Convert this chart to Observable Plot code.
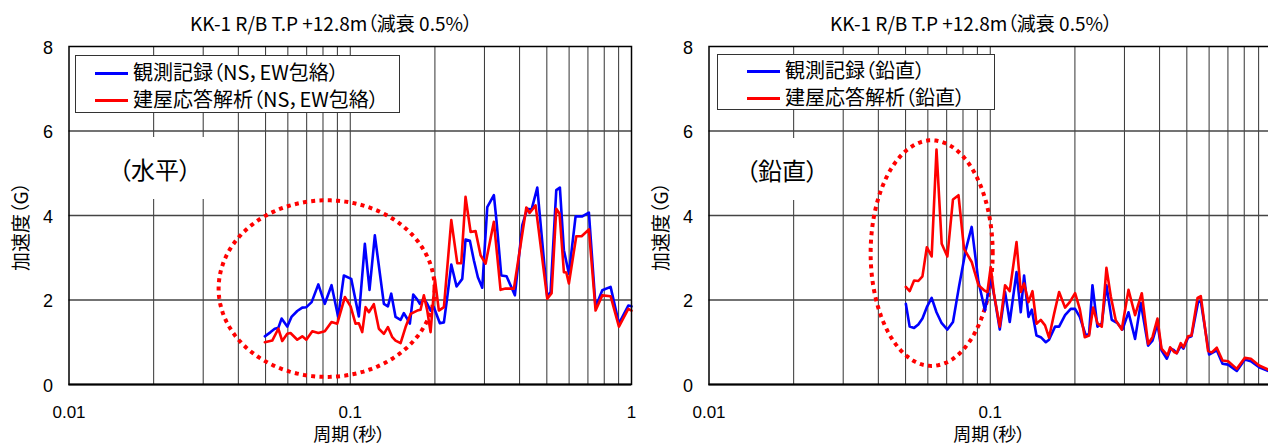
<!DOCTYPE html>
<html>
<head>
<meta charset="utf-8">
<script src="https://cdn.jsdelivr.net/npm/d3@7"></script>
<script src="https://cdn.jsdelivr.net/npm/@observablehq/plot@0.6"></script>
<style>
  html, body { margin: 0; padding: 0; overflow: hidden; background: #fff; }
  body { width: 1268px; height: 445px; font-family: "Noto Sans CJK JP", sans-serif; font-feature-settings: "palt"; }
  #wrap { display: flex; width: 1280px; }
  .panel { position: relative; width: 640px; height: 445px; flex: none; }
  .panel svg { display: block; font-feature-settings: "palt"; }
  .legend { position: absolute; background: #fff; border: 1.2px solid #333; box-sizing: border-box; }
  .legend .sw { position: absolute; height: 3px; margin-top: -1.5px; }
  .legend .tx { position: absolute; font-size: 20px; line-height: 20px; margin-top: -11px; white-space: nowrap; color: #000; }
  .tag { position: absolute; background: #fff; display: flex; align-items: center; justify-content: center; }
  .tag span { font-size: 24px; color: #000; white-space: nowrap; }
</style>
</head>
<body>
<div id="wrap"></div>
<script>
// ---- text ----
const titleText = "KK-1 R/B T.P +12.8m（減衰 0.5%）";
const xLabel = "周期（秒）";
const yLabel = "加速度（G）";
const xTicks = [0.01, 0.1, 1];
const xTickLabels = ["0.01", "0.1", "1"];
const yTicks = [0, 2, 4, 6, 8];
const gridX = [0.02, 0.03, 0.04, 0.05, 0.06, 0.07, 0.08, 0.09, 0.1, 0.2, 0.3, 0.4, 0.5, 0.6, 0.7, 0.8, 0.9];
const gridY = [2, 4, 6];

// ---- horizontal panel (NS, EW envelope) ----
const hLegend = ["観測記録（NS，EW包絡）", "建屋応答解析（NS，EW包絡）"];
const hTag = "（水平）";
const hObsT = [0.0497,0.0521,0.0539,0.0555,0.057,0.0597,0.0618,0.0648,0.0675,0.0698,
  0.0729,0.077,0.0812,0.0858,0.0906,0.0949,0.1008,0.1073,0.1127,0.1171,
  0.1223,0.1317,0.1361,0.1399,0.1449,0.151,0.1551,0.1586,0.1629,0.1675,
  0.1731,0.1768,0.1827,0.1878,0.193,0.1983,0.2083,0.2153,0.2213,0.2287,
  0.2388,0.2502,0.257,0.2663,0.2751,0.2843,0.2947,0.307,0.3241,0.3314,
  0.3443,0.3596,0.3849,0.409,0.4261,0.4413,0.4624,0.5019,0.5156,0.5402,
  0.5564,0.5749,0.599,0.6327,0.6683,0.7055,0.7452,0.7872,0.8427,0.9022,
  0.9741,1.0];
const hObsA = [1.14,1.24,1.32,1.34,1.56,1.37,1.60,1.74,1.82,1.83,
  1.95,2.37,1.91,2.35,1.60,2.58,2.50,1.61,3.33,2.24,
  3.53,1.91,1.85,2.15,1.60,1.53,1.69,1.58,1.44,2.13,
  2.01,1.91,2.03,1.91,1.75,1.83,1.45,1.47,2.07,2.84,
  2.32,2.50,3.43,3.40,2.94,2.54,2.29,4.20,4.48,3.85,
  2.58,2.56,2.11,3.77,4.16,4.14,4.66,2.07,2.19,4.60,
  4.66,3.18,2.62,3.98,3.98,4.07,1.83,2.23,2.31,1.44,
  1.87,1.85];
const hAnaT = [0.0497,0.0528,0.0555,0.0573,0.0597,0.0613,0.0648,0.0675,0.0698,0.0733,
  0.077,0.0812,0.0858,0.0899,0.0957,0.1003,0.1044,0.1073,0.1103,0.1134,
  0.1165,0.1213,0.1264,0.1317,0.1361,0.1411,0.1449,0.151,0.1573,0.1639,
  0.1731,0.1778,0.1827,0.1878,0.193,0.2,0.2066,0.2153,0.2287,0.2402,
  0.2481,0.257,0.2679,0.279,0.2907,0.3028,0.3241,0.3423,0.3567,0.3818,
  0.4227,0.4342,0.456,0.5019,0.5199,0.5402,0.555,0.5749,0.5864,0.599,
  0.6363,0.6646,0.7055,0.7452,0.7872,0.8427,0.9022,0.9741,1.0];
const hAnaA = [1.00,1.04,1.32,1.03,1.20,1.22,1.06,1.14,1.06,1.26,
  1.22,1.26,1.48,1.44,2.07,1.85,1.44,1.45,1.24,1.83,
  1.71,1.90,1.32,1.20,1.36,1.12,1.04,0.98,1.36,1.67,
  1.75,1.77,2.11,1.75,1.24,2.50,1.75,1.83,3.89,2.87,
  2.87,4.44,3.61,3.63,3.06,2.86,3.85,2.24,2.27,2.27,
  4.19,4.06,4.24,2.03,2.16,4.16,4.04,2.66,2.65,2.39,
  3.51,3.51,3.67,1.75,2.11,2.09,1.37,1.79,1.75];
// highlight ellipse: centre period, centre G, half-width (decades), half-height (G)
const hEllipse = [0.0824, 2.27, 0.384, 2.09];

// ---- vertical panel ----
const vLegend = ["観測記録（鉛直）", "建屋応答解析（鉛直）"];
const vTag = "（鉛直）";
const vObsT = [0.0501,0.0517,0.0536,0.0555,0.0574,0.0595,0.0619,0.0644,0.0672,0.0704,
  0.0737,0.0774,0.0818,0.0859,0.0908,0.0958,0.1004,0.104,0.1081,0.1129,
  0.1173,0.124,0.1284,0.1319,0.1368,0.1405,0.146,0.1512,0.1576,0.1618,
  0.17,0.1757,0.1845,0.1933,0.2003,0.2081,0.2186,0.2246,0.2309,0.2405,
  0.2492,0.2589,0.2704,0.2833,0.2952,0.3101,0.3273,0.343,0.3641,0.3774,
  0.3932,0.4063,0.4244,0.4385,0.4504,0.4605,0.4759,0.4865,0.5051,0.5194,
  0.5483,0.5606,0.60,0.639,0.6696,0.701,0.7527,0.8039,0.8444,0.9033,
  0.9757,1.0];
const vObsA = [1.91,1.37,1.34,1.42,1.56,1.83,2.05,1.71,1.45,1.30,
  1.48,2.31,3.18,3.73,2.43,1.75,2.54,1.99,1.30,2.19,
  1.48,2.66,1.71,2.58,1.60,1.77,1.16,1.12,1.00,1.06,
  1.37,1.37,1.64,1.79,1.79,1.60,1.16,1.20,2.35,1.37,
  1.44,2.35,1.53,1.45,1.30,1.71,1.08,1.93,0.92,1.04,
  1.44,0.81,0.61,0.85,0.81,0.74,0.92,0.85,1.11,1.14,
  1.95,1.97,0.71,0.81,0.49,0.47,0.32,0.59,0.55,0.41,
  0.32,0.30];
const vAnaT = [0.0501,0.0517,0.0536,0.0555,0.0574,0.0595,0.0619,0.0644,0.0672,0.0704,
  0.0737,0.0771,0.0807,0.0859,0.0908,0.0951,0.0977,0.1004,0.1031,0.1081,
  0.1129,0.1173,0.124,0.1284,0.1319,0.1368,0.1413,0.146,0.1512,0.1566,
  0.1618,0.1686,0.1757,0.1845,0.1917,0.2003,0.2081,0.2168,0.2246,0.2321,
  0.2405,0.2492,0.2589,0.2682,0.2794,0.2935,0.3101,0.3273,0.3458,0.3641,
  0.3774,0.3932,0.4063,0.4268,0.4359,0.4504,0.4605,0.4759,0.4865,0.5051,
  0.5194,0.5457,0.5606,0.595,0.6134,0.639,0.6696,0.701,0.7527,0.8039,
  0.8444,0.9033,0.9757,1.0];
const vAnaA = [2.31,2.21,2.46,2.45,2.56,3.25,3.03,5.56,3.33,3.03,
  4.38,4.48,3.21,2.90,2.35,2.23,2.19,2.78,2.15,1.37,
  2.35,2.21,3.37,2.19,2.39,1.95,2.21,1.44,1.53,1.40,
  1.11,1.67,2.19,1.82,1.95,2.16,1.79,1.12,1.16,1.82,
  1.45,1.37,2.76,2.09,1.52,1.30,2.24,1.64,2.16,0.96,
  1.12,1.56,0.85,0.69,0.88,0.77,0.74,0.98,0.88,1.14,
  1.16,2.05,2.09,0.79,0.76,0.87,0.57,0.55,0.37,0.63,
  0.61,0.45,0.35,0.33];
const vEllipse = [0.0619, 3.11, 0.217, 2.67];

const BLUE = "#0000ff", RED = "#ff0000";
const xLabelMap = new Map(xTicks.map((t, i) => [t, xTickLabels[i]]));

function ellipsePoints(e) {
  const [tc, ac, rx, ry] = e;
  return d3.range(0, 181).map(i => {
    const th = (i / 180) * 2 * Math.PI;
    return {t: tc * Math.pow(10, rx * Math.cos(th)), a: ac + ry * Math.sin(th)};
  });
}

function makePanel(cfg) {
  const obs = cfg.obsT.map((t, i) => ({t, a: cfg.obsA[i]}));
  const ana = cfg.anaT.map((t, i) => ({t, a: cfg.anaA[i]}));
  const svg = Plot.plot({
    width: 640, height: 445,
    marginTop: 46, marginBottom: 61, marginLeft: 68.5, marginRight: 9,
    style: {fontFamily: "'Noto Sans CJK JP', sans-serif", fontSize: "17px", color: "#000", background: "#fff", overflow: "visible"},
    x: {type: "log", domain: [0.01, 1], axis: null},
    y: {domain: [0, 8], axis: null},
    marks: [
      Plot.ruleX(gridX, {stroke: "#333", strokeWidth: 1}),
      Plot.ruleY(gridY, {stroke: "#444", strokeWidth: 1.3}),
      Plot.line(ellipsePoints(cfg.ellipse), {x: "t", y: "a", stroke: RED, strokeWidth: 4, strokeDasharray: "4,4.3", strokeLinecap: "butt", curve: "linear-closed"}),
      Plot.line(obs, {x: "t", y: "a", stroke: BLUE, strokeWidth: 2.6}),
      Plot.line(ana, {x: "t", y: "a", stroke: RED, strokeWidth: 2.6}),
      Plot.frame({stroke: "#000", strokeWidth: 1.5}),
      Plot.ruleY([0], {stroke: "#000", strokeWidth: 2}),
      Plot.axisY(yTicks, {tickSize: 0, tickPadding: 16, dy: 1.5, label: null, fontSize: 18, fontFamily: "'Liberation Sans', Arial, sans-serif"}),
      Plot.axisX(cfg.xTicks, {tickSize: 0, tickPadding: 21, tickFormat: d => xLabelMap.get(d), label: null, fontSize: 17, fontFamily: "'Liberation Sans', Arial, sans-serif"}),
      Plot.text([titleText], {text: d => d, frameAnchor: "top", textAnchor: "middle", lineAnchor: "middle", dx: -19, dy: -21.5, fontSize: 19}),
      Plot.text([xLabel], {text: d => d, frameAnchor: "bottom", textAnchor: "middle", lineAnchor: "middle", dx: -1, dy: 50.5, fontSize: 18}),
      Plot.text([yLabel], {text: d => d, frameAnchor: "left", textAnchor: "middle", lineAnchor: "middle", rotate: -90, dx: -47.5, dy: 11, fontSize: 19})
    ]
  });
  const div = document.createElement("div");
  div.className = "panel";
  div.appendChild(svg);

  const lg = document.createElement("div");
  lg.className = "legend";
  Object.assign(lg.style, cfg.legendBox);
  cfg.legend.forEach((label, i) => {
    const sw = document.createElement("div");
    sw.className = "sw";
    sw.style.background = i === 0 ? BLUE : RED;
    sw.style.left = cfg.swLeft + "px";
    sw.style.width = "33px";
    sw.style.top = cfg.rowY[i] + "px";
    const tx = document.createElement("div");
    tx.className = "tx";
    tx.style.left = cfg.txLeft + "px";
    tx.style.top = cfg.rowY[i] + "px";
    tx.textContent = label;
    lg.appendChild(sw);
    lg.appendChild(tx);
  });
  div.appendChild(lg);

  const tag = document.createElement("div");
  tag.className = "tag";
  Object.assign(tag.style, cfg.tagBox);
  const sp = document.createElement("span");
  sp.textContent = cfg.tag;
  tag.appendChild(sp);
  div.appendChild(tag);
  return div;
}

const wrap = document.getElementById("wrap");
wrap.appendChild(makePanel({
  obsT: hObsT, obsA: hObsA, anaT: hAnaT, anaA: hAnaA, ellipse: hEllipse,
  legend: hLegend, tag: hTag, xTicks: xTicks,
  legendBox: {left: "75px", top: "55px", width: "325px", height: "58px"},
  swLeft: 19, txLeft: 57, rowY: [17, 44],
  tagBox: {left: "100px", top: "137px", width: "110px", height: "62px"}
}));
// the right panel is cut by the window edge just before its "1" tick label
wrap.appendChild(makePanel({
  obsT: vObsT, obsA: vObsA, anaT: vAnaT, anaA: vAnaA, ellipse: vEllipse,
  legend: vLegend, tag: vTag, xTicks: xTicks.slice(0, 2),
  legendBox: {left: "77px", top: "54px", width: "278px", height: "56px"},
  swLeft: 29, txLeft: 67, rowY: [16, 43],
  tagBox: {left: "90px", top: "138px", width: "104px", height: "62px"}
}));
</script>
</body>
</html>
